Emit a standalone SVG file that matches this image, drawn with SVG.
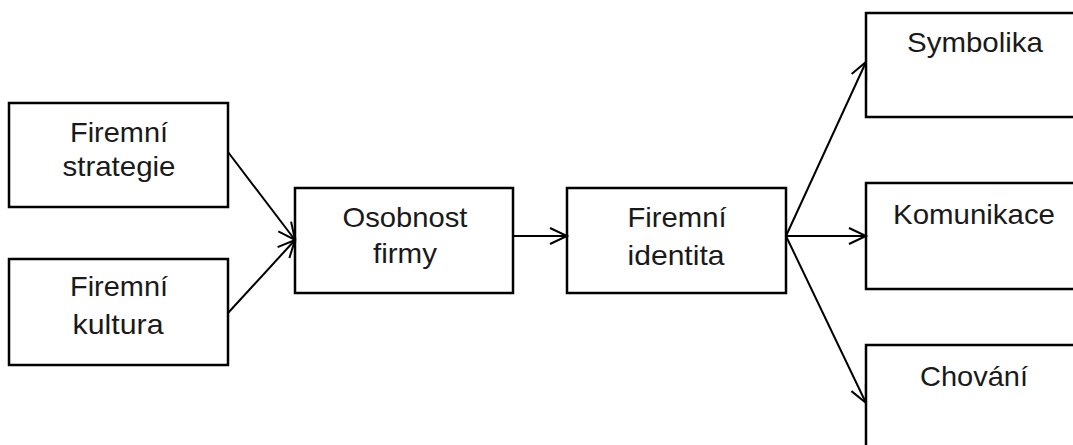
<svg xmlns="http://www.w3.org/2000/svg" width="1073" height="445" viewBox="0 0 1073 445">
  <defs>
    <style>
      .box { fill: #ffffff; stroke: #000000; stroke-width: 2.5; }
      .lbl { font-family: "Liberation Sans", Arial, sans-serif; font-size: 28.5px; fill: #1a1a1a; text-anchor: middle; }
      .edge { fill: none; stroke: #000000; stroke-width: 2; }
    </style>
    <marker id="arr" markerUnits="userSpaceOnUse" markerWidth="22" markerHeight="22" viewBox="0 0 22 22" refX="19" refY="11" orient="auto">
      <path d="M2,3 L19,11 L2,19" fill="none" stroke="#000" stroke-width="2"/>
    </marker>
  </defs>
  <rect width="1073" height="445" fill="#ffffff"/>

  <g id="strategie">
    <rect class="box" x="9" y="103" width="219" height="104"/>
    <text class="lbl" x="119" y="142" textLength="98" lengthAdjust="spacingAndGlyphs">Firemní</text>
    <text class="lbl" x="119" y="176" textLength="113" lengthAdjust="spacingAndGlyphs">strategie</text>
  </g>
  <g id="kultura">
    <rect class="box" x="9" y="259" width="219" height="106"/>
    <text class="lbl" x="119" y="296" textLength="98" lengthAdjust="spacingAndGlyphs">Firemní</text>
    <text class="lbl" x="118" y="334" textLength="91" lengthAdjust="spacingAndGlyphs">kultura</text>
  </g>
  <g id="osobnost">
    <rect class="box" x="295" y="188" width="218" height="105"/>
    <text class="lbl" x="405" y="227" textLength="125" lengthAdjust="spacingAndGlyphs">Osobnost</text>
    <text class="lbl" x="405" y="263" textLength="64" lengthAdjust="spacingAndGlyphs">firmy</text>
  </g>
  <g id="identita">
    <rect class="box" x="567" y="188" width="219" height="105"/>
    <text class="lbl" x="677" y="227" textLength="99" lengthAdjust="spacingAndGlyphs">Firemní</text>
    <text class="lbl" x="676" y="265" textLength="97" lengthAdjust="spacingAndGlyphs">identita</text>
  </g>
  <g id="symbolika">
    <rect class="box" x="866" y="13" width="220" height="104"/>
    <text class="lbl" x="975" y="52" textLength="136" lengthAdjust="spacingAndGlyphs">Symbolika</text>
  </g>
  <g id="komunikace">
    <rect class="box" x="866" y="183" width="220" height="106"/>
    <text class="lbl" x="974" y="224" textLength="162" lengthAdjust="spacingAndGlyphs">Komunikace</text>
  </g>
  <g id="chovani">
    <rect class="box" x="866" y="345" width="220" height="110"/>
    <text class="lbl" x="974" y="386" textLength="108" lengthAdjust="spacingAndGlyphs">Chování</text>
  </g>

  <g id="connectors">
    <line class="edge" x1="228" y1="152" x2="295" y2="240" marker-end="url(#arr)"/>
    <line class="edge" x1="228" y1="313" x2="295" y2="240" marker-end="url(#arr)"/>
    <line class="edge" x1="513" y1="236" x2="567" y2="236" marker-end="url(#arr)"/>
    <line class="edge" x1="786" y1="236" x2="866" y2="62" marker-end="url(#arr)"/>
    <line class="edge" x1="786" y1="236" x2="866" y2="236" marker-end="url(#arr)"/>
    <line class="edge" x1="786" y1="236" x2="866" y2="403" marker-end="url(#arr)"/>
  </g>
</svg>
